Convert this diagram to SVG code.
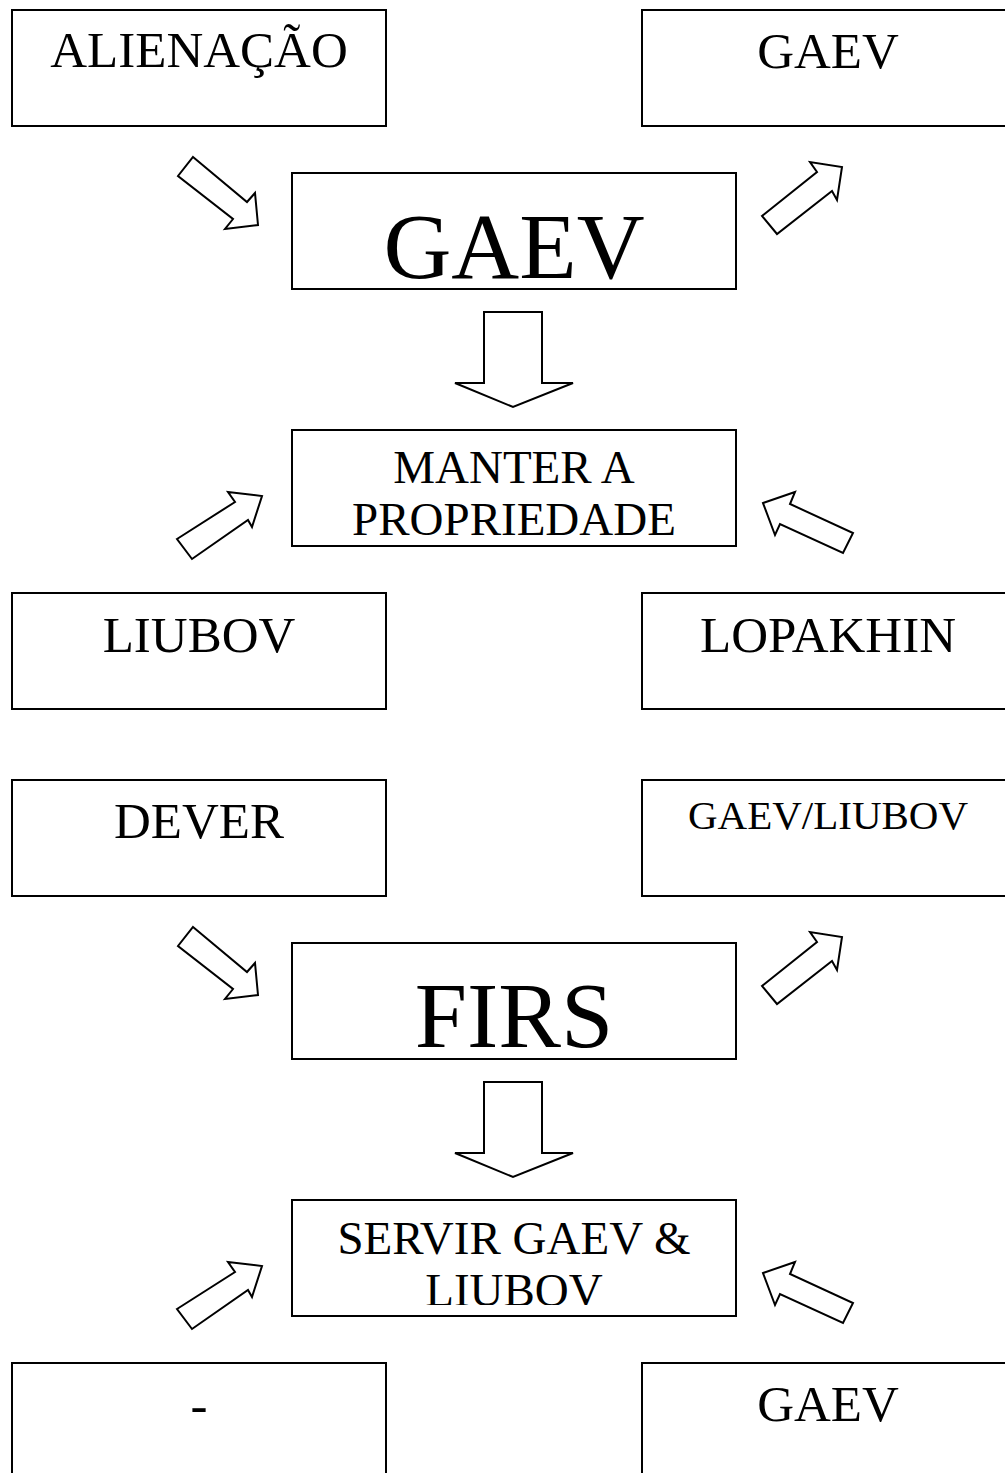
<svg xmlns="http://www.w3.org/2000/svg" width="1005" height="1473" viewBox="0 0 1005 1473">
<style>
.box{fill:#fff;stroke:#000;stroke-width:2}
.arr{fill:#fff;stroke:#000;stroke-width:2;stroke-linejoin:miter}
text{font-family:"Liberation Serif","Times New Roman",serif;fill:#000;text-anchor:middle}
.s{font-size:51px}
.m{font-size:47px}
.b{font-size:94px}
.g{font-size:41px}
</style>
<defs>
<clipPath id="clipServir"><rect x="292" y="1200" width="444" height="105"/></clipPath>
</defs>
<rect width="1005" height="1473" fill="#fff"/>
<g id="connectors">
<polygon class="arr" points="193,157 247,202 255,193 258,225 225,229 233,219 178,176"/>
<polygon class="arr" points="762,216 817,172 810,162 842,167 837,200 832,191 777,234"/>
<polygon class="arr" points="484,312 542,312 542,383 573,383 513,407 455,383 484,383"/>
<polygon class="arr" points="177,539 235,502 228,492 262,496 252,527 248,520 192,559"/>
<polygon class="arr" points="763,503 795,492 790,504 853,533 843,553 780,524 775,535"/>
<g transform="translate(0,770)">
<polygon class="arr" points="193,157 247,202 255,193 258,225 225,229 233,219 178,176"/>
<polygon class="arr" points="762,216 817,172 810,162 842,167 837,200 832,191 777,234"/>
<polygon class="arr" points="484,312 542,312 542,383 573,383 513,407 455,383 484,383"/>
<polygon class="arr" points="177,539 235,502 228,492 262,496 252,527 248,520 192,559"/>
<polygon class="arr" points="763,503 795,492 790,504 853,533 843,553 780,524 775,535"/>
</g>
</g>
<g id="n-alienacao"><rect class="box" x="12" y="10" width="374" height="116"/><text class="s" x="199" y="67">ALIENAÇÃO</text></g>
<g id="n-gaev-top"><rect class="box" x="642" y="10" width="372" height="116"/><text class="s" x="828" y="68">GAEV</text></g>
<g id="n-gaev-main"><rect class="box" x="292" y="173" width="444" height="116"/><text class="b" x="514" y="278">GAEV</text></g>
<g id="n-manter"><rect class="box" x="292" y="430" width="444" height="116"/><text class="m" x="514" y="483">MANTER A</text><text class="m" x="514" y="535">PROPRIEDADE</text></g>
<g id="n-liubov"><rect class="box" x="12" y="593" width="374" height="116"/><text class="s" x="199" y="652">LIUBOV</text></g>
<g id="n-lopakhin"><rect class="box" x="642" y="593" width="372" height="116"/><text class="s" x="828" y="652">LOPAKHIN</text></g>
<g id="n-dever"><rect class="box" x="12" y="780" width="374" height="116"/><text class="s" x="199" y="838">DEVER</text></g>
<g id="n-gaev-liubov"><rect class="box" x="642" y="780" width="372" height="116"/><text class="g" x="828" y="829">GAEV/LIUBOV</text></g>
<g id="n-firs"><rect class="box" x="292" y="943" width="444" height="116"/><text class="b" x="514" y="1047">FIRS</text></g>
<g id="n-servir"><rect class="box" x="292" y="1200" width="444" height="116"/><g clip-path="url(#clipServir)"><text class="m" x="514" y="1254">SERVIR GAEV &amp;</text><text class="m" x="514" y="1306">LIUBOV</text></g></g>
<g id="n-dash"><rect class="box" x="12" y="1363" width="374" height="130"/><text class="s" x="199" y="1422">-</text></g>
<g id="n-gaev-bottom"><rect class="box" x="642" y="1363" width="372" height="130"/><text class="s" x="828" y="1421">GAEV</text></g>
</svg>
